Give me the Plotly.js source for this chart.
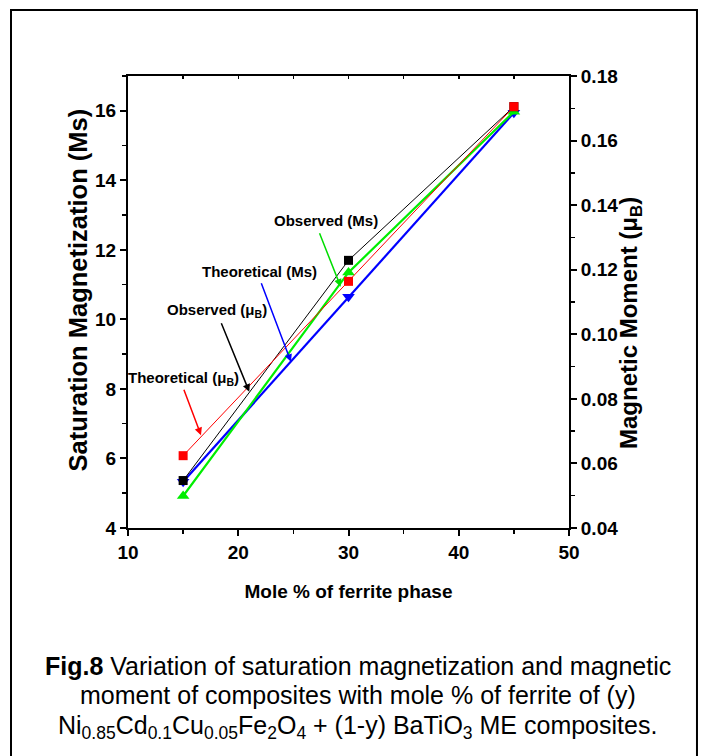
<!DOCTYPE html>
<html>
<head>
<meta charset="utf-8">
<script src="https://cdn.plot.ly/plotly-3.0.1.min.js"></script>
<style>
  html, body { margin: 0; padding: 0; background: #fff; }
  #chart { width: 704px; height: 756px; }
</style>
</head>
<body>
<div id="chart"></div>
<script>
// ---- data ----
const molePercent = [15, 30, 45];
const msObserved = [4.92, 11.35, 15.97];        // green, left axis
const msTheoretical = [5.33, 10.65, 15.94];     // blue, left axis
const muObserved = [0.0547, 0.1229, 0.1705];    // black, right axis
const muTheoretical = [0.0624, 0.1164, 0.1705]; // red, right axis

const xTicks = [10, 20, 30, 40, 50];
const yTicks = [4, 6, 8, 10, 12, 14, 16];
const y2Ticks = [0.04, 0.06, 0.08, 0.10, 0.12, 0.14, 0.16, 0.18];

const captionLines = [
  '<b>Fig.8</b> Variation of saturation magnetization and magnetic',
  'moment of composites with mole % of ferrite of (y)',
  'Ni<sub>0.85</sub>Cd<sub>0.1</sub>Cu<sub>0.05</sub>Fe<sub>2</sub>O<sub>4</sub> + (1-y) BaTiO<sub>3</sub> ME composites.'
];

const FONT = '"Liberation Sans", Arial, sans-serif';

const traces = [
  { x: molePercent, y: msTheoretical, name: 'Theoretical (Ms)', type: 'scatter', mode: 'lines+markers',
    line: { color: '#0000ff', width: 2.2 }, marker: { symbol: 'triangle-down', size: 11, color: '#0000ff' }, yaxis: 'y' },
  { x: molePercent, y: msObserved, name: 'Observed (Ms)', type: 'scatter', mode: 'lines+markers',
    line: { color: '#00ee00', width: 2.2 }, marker: { symbol: 'triangle-up', size: 11, color: '#00ee00' }, yaxis: 'y' },
  { x: molePercent, y: muObserved, name: 'Observed (μB)', type: 'scatter', mode: 'lines+markers',
    line: { color: '#000000', width: 1 }, marker: { symbol: 'square', size: 9, color: '#000000' }, yaxis: 'y2' },
  { x: molePercent, y: muTheoretical, name: 'Theoretical (μB)', type: 'scatter', mode: 'lines+markers',
    line: { color: '#ff0000', width: 1 }, marker: { symbol: 'square', size: 9, color: '#ff0000' }, yaxis: 'y2' }
];

// label annotations (text + separate arrows), in left-axis data units
const labelDefs = [
  { text: 'Observed (Ms)', color: '#00dd00', tx: 27.93, ty: 12.83, ax: 27.32, ay: 12.52, hx: 29.29, hy: 10.94 },
  { text: 'Theoretical (Ms)', color: '#0000ff', tx: 21.97, ty: 11.37, ax: 22.04, ay: 11.08, hx: 24.78, hy: 8.78 },
  { text: 'Observed (μ<sub>B</sub>)', color: '#000000', tx: 18.05, ty: 10.27, ax: 18.41, ay: 9.93, hx: 21.00, hy: 7.92 },
  { text: 'Theoretical (μ<sub>B</sub>)', color: '#ff0000', tx: 15.02, ty: 8.30, ax: 15.02, ay: 8.02, hx: 16.62, hy: 6.67 }
];

const annotations = [];
labelDefs.forEach(d => {
  annotations.push({ x: d.tx, y: d.ty, xref: 'x', yref: 'y', text: '<b>' + d.text + '</b>', showarrow: false,
    font: { family: FONT, size: 15, color: '#000' }, xanchor: 'center', yanchor: 'middle' });
  annotations.push({ x: d.hx, y: d.hy, xref: 'x', yref: 'y', ax: d.ax, ay: d.ay, axref: 'x', ayref: 'y',
    text: '', showarrow: true, arrowhead: 2, arrowsize: 1, arrowwidth: 1.5, arrowcolor: d.color });
});

// caption: one annotation per line (paper coords; plot area is 441x452 px)
const captionY = [-0.3053, -0.3695, -0.4400];
captionLines.forEach((t, i) => {
  annotations.push({
    x: 0.5215, y: captionY[i], xref: 'paper', yref: 'paper', xanchor: 'center', yanchor: 'middle',
    showarrow: false, align: 'center', font: { family: FONT, size: 25, color: '#000' }, text: t
  });
});

// y-axis titles as rotated annotations
annotations.push({
  x: -0.1134, y: 0.5277, xref: 'paper', yref: 'paper', xanchor: 'center', yanchor: 'middle', showarrow: false,
  textangle: -90, font: { family: FONT, size: 25.5, color: '#000' }, text: '<b>Saturation Magnetization (Ms)</b>'
});
annotations.push({
  x: 1.1383, y: 0.4535, xref: 'paper', yref: 'paper', xanchor: 'center', yanchor: 'middle', showarrow: false,
  textangle: -90, font: { family: FONT, size: 24, color: '#000' }, text: '<b>Magnetic Moment (μ<sub>B</sub>)</b>'
});

const layout = {
  width: 704, height: 756,
  margin: { l: 128, r: 135, t: 76, b: 228 },
  paper_bgcolor: '#fff', plot_bgcolor: '#fff',
  showlegend: false,
  font: { family: FONT, color: '#000' },
  xaxis: {
    range: [10, 50], tickvals: xTicks, ticks: 'outside', ticklen: 6, tickwidth: 2, tickcolor: '#000',
    showline: true, linewidth: 2, linecolor: '#000', showgrid: false, zeroline: false,
    minor: { dtick: 5, ticks: 'outside', ticklen: 4, tickwidth: 1.5, tickcolor: '#000' },
    tickfont: { family: FONT, size: 19, weight: 'bold' },
    title: { text: '<b>Mole % of ferrite phase</b>', font: { family: FONT, size: 19 }, standoff: 23 }
  },
  xaxis2: {
    overlaying: 'x', side: 'top', range: [10, 50], dtick: 5, ticks: 'inside', ticklen: 3, tickwidth: 1.5,
    tickcolor: '#000', showticklabels: false, showline: true, linewidth: 2, linecolor: '#000',
    showgrid: false, zeroline: false
  },
  yaxis: {
    range: [4, 17], tickvals: yTicks, ticks: 'outside', ticklen: 6, tickwidth: 2, tickcolor: '#000',
    showline: true, linewidth: 2, linecolor: '#000', showgrid: false, zeroline: false,
    minor: { dtick: 1, ticks: 'outside', ticklen: 4, tickwidth: 1.5, tickcolor: '#000' },
    tickfont: { family: FONT, size: 19, weight: 'bold' }
  },
  yaxis2: {
    overlaying: 'y', side: 'right', range: [0.04, 0.18], tickvals: y2Ticks, tickformat: '.2f',
    ticks: 'outside', ticklen: 6, tickwidth: 2, tickcolor: '#000',
    showline: true, linewidth: 2, linecolor: '#000', showgrid: false, zeroline: false,
    minor: { dtick: 0.01, ticks: 'outside', ticklen: 4, tickwidth: 1.5, tickcolor: '#000' },
    tickfont: { family: FONT, size: 19, weight: 'bold' }
  },
  shapes: [
    { type: 'rect', xref: 'paper', yref: 'paper', x0: -0.2653, x1: 1.2902, y0: -0.52, y1: 1.146,
      line: { color: '#000', width: 2 }, fillcolor: 'rgba(0,0,0,0)', layer: 'below' }
  ],
  annotations: annotations
};

// invisible point to activate the top axis
traces.unshift({ x: [10], y: [4], xaxis: 'x2', yaxis: 'y', mode: 'markers', marker: { opacity: 0 }, hoverinfo: 'skip', showlegend: false });

Plotly.newPlot('chart', traces, layout, { staticPlot: true });
</script>
</body>
</html>
